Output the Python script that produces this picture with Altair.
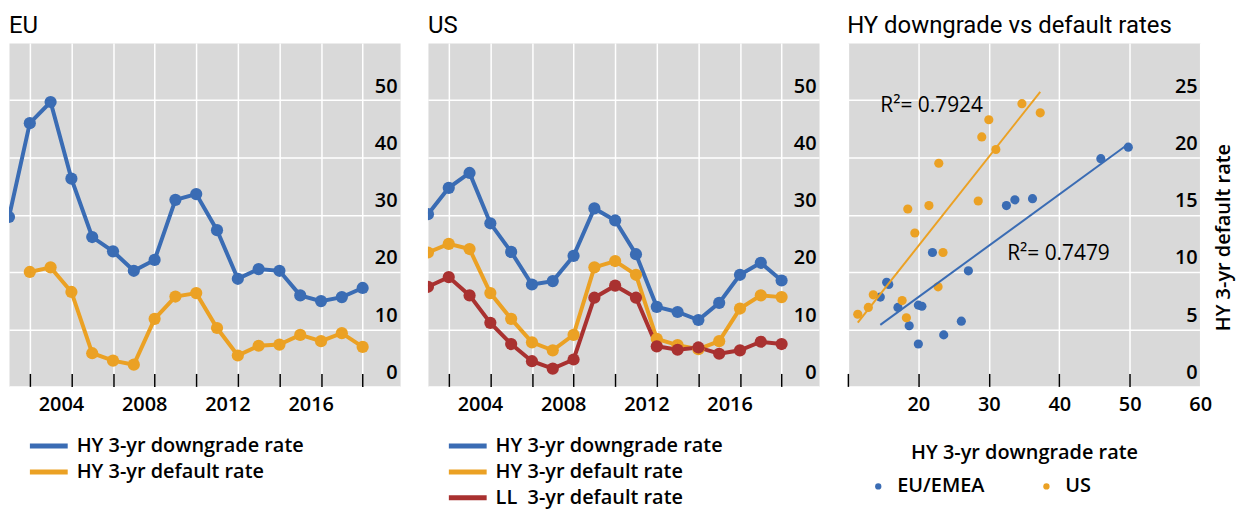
import altair as alt
import pandas as pd

# ---------------- data ----------------
years = list(range(2001, 2019))

eu_downgrade = [29.6, 46.0, 49.7, 36.3, 26.1, 23.6, 20.2, 22.1, 32.6, 33.6,
                27.3, 18.8, 20.5, 20.2, 15.9, 14.9, 15.6, 17.2]
eu_default = [None, 20.0, 20.8, 16.5, 5.8, 4.5, 3.8, 11.8, 15.7, 16.3,
              10.2, 5.4, 7.1, 7.3, 9.0, 7.9, 9.3, 6.9]

us_downgrade = [30.1, 34.7, 37.3, 28.5, 23.5, 17.8, 18.4, 22.8, 31.1, 29.0,
                23.1, 13.9, 13.0, 11.6, 14.6, 19.5, 21.6, 18.5]
us_hy_default = [23.4, 24.9, 24.0, 16.3, 11.8, 7.7, 6.3, 9.0, 20.8, 21.9,
                 19.5, 8.3, 7.2, 6.5, 7.9, 13.6, 15.9, 15.6]
us_ll_default = [17.4, 19.1, 15.9, 11.1, 7.4, 4.4, 3.1, 4.7, 15.5, 17.6,
                 15.5, 7.0, 6.4, 6.8, 5.7, 6.3, 7.8, 7.4]

eu_series = ["HY 3-yr downgrade rate", "HY 3-yr default rate"]
us_series = ["HY 3-yr downgrade rate", "HY 3-yr default rate", "LL\u00a0 3-yr default rate"]

scatter_regions = ["EU/EMEA", "US"]
eu_scatter_x = [14.6, 15.5, 15.8, 17.1, 18.7, 20.0, 20.0, 20.5, 22.0, 23.6,
                26.1, 27.1, 32.5, 33.7, 36.2, 45.9, 49.8]
eu_scatter_y = [7.8, 9.1, 8.9, 6.9, 5.3, 3.7, 7.1, 7.0, 11.7, 4.5,
                5.7, 10.1, 15.8, 16.3, 16.4, 19.9, 20.9]
us_scatter_x = [11.4, 12.9, 13.6, 17.7, 18.3, 18.5, 19.5, 21.5, 22.9, 22.8,
                23.5, 28.5, 29.0, 30.0, 31.0, 34.7, 37.3]
us_scatter_y = [6.3, 6.9, 8.0, 7.5, 6.0, 15.5, 13.4, 15.8, 19.5, 8.7,
                11.7, 16.2, 21.8, 23.3, 20.7, 24.7, 23.9]

r2_texts = ["R\u00b2= 0.7924", "R\u00b2= 0.7479"]

year_labels = [2004, 2008, 2012, 2016]
line_y_ticks = [0, 10, 20, 30, 40, 50]
scatter_y_ticks = [0, 5, 10, 15, 20, 25]
scatter_x_ticks = [10, 20, 30, 40, 50, 60]

# ---------------- styling ----------------
FONT = "Open Sans"
TITLE_FONT = "Roboto"
BLUE = "#3a6cb4"
ORANGE = "#eba124"
RED = "#a93130"
GRAY = "#d9d9d9"
W_LINE, W_SC, H = 393, 354, 345
X_MIN, X_MAX = 2001.5, 2020.3
STEP = W_LINE / (X_MAX - X_MIN)
LABEL_SIZE = 20
# anchor of the R² annotations (in data units)
r2_anchor_x = [14.6, 32.6]
r2_anchor_y = [24.0, 11.0]

title_style = dict(anchor="start", font=TITLE_FONT, fontSize=24, fontWeight="normal",
                   color="black", offset=5)


def right_y_axis(values, **kw):
    return alt.Axis(orient="right", values=values, grid=True, gridColor="white",
                    gridWidth=1.5, ticks=False, domain=False, labelAlign="right",
                    labelPadding=-3, labelBaseline="alphabetic", labelOffset=-8, **kw)


def line_panel(title, names, series, colors):
    rows = [{"year": yr, "series": n, "value": v}
            for n, vals in zip(names, series)
            for yr, v in zip(years, vals) if v is not None]
    df = pd.DataFrame(rows)
    grid_t = [yr + 0.5 for yr in years if yr % 2 == 0]
    x = alt.X("t:Q", title=None,
              scale=alt.Scale(domain=[X_MIN, X_MAX], nice=False, zero=False),
              axis=alt.Axis(values=grid_t, grid=True, gridColor="white", gridWidth=1.5,
                            ticks=True, tickSize=13, tickColor="black", tickWidth=1.5,
                            offset=-13, domain=False, labelFlush=False, labelOverlap=False,
                            labelExpr=f"indexof({year_labels}, datum.value - 0.5) >= 0 ? format(datum.value - 0.5, 'd') : ''",
                            labelOffset=-STEP / 2, labelPadding=8))
    y = alt.Y("value:Q", title=None, scale=alt.Scale(domain=[0, 60], nice=False),
              axis=right_y_axis(line_y_ticks))
    color = alt.Color("series:N", scale=alt.Scale(domain=names, range=colors),
                      legend=alt.Legend(title=None, orient="none", legendX=21, legendY=393,
                                        direction="vertical", symbolType="M-2,0H2",
                                        symbolSize=361, symbolStrokeWidth=5, symbolOffset=7,
                                        labelOffset=16, labelFontSize=LABEL_SIZE, labelFont=FONT,
                                        labelFontWeight=600, labelColor="black", rowPadding=4,
                                        padding=0, labelLimit=400))
    return (alt.Chart(df)
            .transform_calculate(t="datum.year + 0.5")
            .mark_line(strokeWidth=4, clip=True,
                       point=alt.OverlayMarkDef(filled=True, size=150, clip=True, opacity=1))
            .encode(x=x, y=y, color=color)
            .properties(width=W_LINE, height=H, title=alt.TitleParams(title, **title_style)))


eu = line_panel("EU", eu_series, [eu_downgrade, eu_default], [BLUE, ORANGE])
us = line_panel("US", us_series, [us_downgrade, us_hy_default, us_ll_default], [BLUE, ORANGE, RED])

# ---------------- scatter ----------------
sc_rows = ([{"region": scatter_regions[0], "dg": a, "df": b} for a, b in zip(eu_scatter_x, eu_scatter_y)]
           + [{"region": scatter_regions[1], "dg": a, "df": b} for a, b in zip(us_scatter_x, us_scatter_y)])
sc_df = pd.DataFrame(sc_rows)

xs = alt.X("dg:Q", title="HY 3-yr downgrade rate",
           scale=alt.Scale(domain=[10, 60], nice=False, zero=False),
           axis=alt.Axis(values=scatter_x_ticks, grid=True, gridColor="white", gridWidth=1.5,
                         ticks=True, tickSize=13, tickWidth=1.5,
                         tickColor=alt.condition("datum.value == 60", alt.value("transparent"), alt.value("black")),
                         offset=-13, domain=False, labelFlush=False, labelOverlap=False,
                         labelExpr="datum.value == 10 ? '' : datum.label", labelPadding=8,
                         titlePadding=28))
ys = alt.Y("df:Q", title="HY 3-yr default rate", scale=alt.Scale(domain=[0, 30], nice=False),
           axis=right_y_axis(scatter_y_ticks, titleAngle=270, titleX=23, titleY=195,
                             titleBaseline="middle", titleAlign="center"))
col = alt.Color("region:N", scale=alt.Scale(domain=scatter_regions, range=[BLUE, ORANGE]),
                legend=alt.Legend(title=None, orient="none", legendX=20.5, legendY=435.5,
                                  direction="horizontal", symbolType="circle", symbolSize=40,
                                  labelOffset=9, columnPadding=52, labelFontSize=LABEL_SIZE,
                                  labelFont=FONT, labelFontWeight=600, labelColor="black",
                                  padding=0, symbolStrokeWidth=0, symbolOpacity=1))

base = alt.Chart(sc_df)
pts = base.mark_circle(size=85, opacity=1).encode(x=xs, y=ys, color=col)
reg = (base.transform_regression("dg", "df", groupby=["region"])
       .mark_line(strokeWidth=2).encode(x=xs, y=ys, color=col))
ann_df = pd.DataFrame({"label": r2_texts, "dg": r2_anchor_x, "df": r2_anchor_y})
ann = (alt.Chart(ann_df)
       .mark_text(align="left", baseline="alphabetic", font=FONT, fontSize=21, color="black")
       .encode(x=alt.X("dg:Q"), y=alt.Y("df:Q"), text="label:N"))

sc = alt.layer(pts, reg, ann).properties(
    width=W_SC, height=H, title=alt.TitleParams("HY downgrade vs default rates", **title_style))

chart = (alt.hconcat(eu, us, sc, spacing=26)
         .resolve_scale(color="independent")
         .resolve_legend(color="independent")
         .properties(padding={"left": 0, "top": 4, "right": 3, "bottom": 0})
         .configure_view(fill=GRAY, stroke="transparent")
         .configure_axis(labelFont=FONT, labelFontSize=LABEL_SIZE, labelFontWeight=600,
                         labelColor="black", titleFont=FONT, titleFontSize=LABEL_SIZE,
                         titleFontWeight=600, titleColor="black"))

chart.save("out.html", embed_options={"renderer": "svg", "actions": False})
